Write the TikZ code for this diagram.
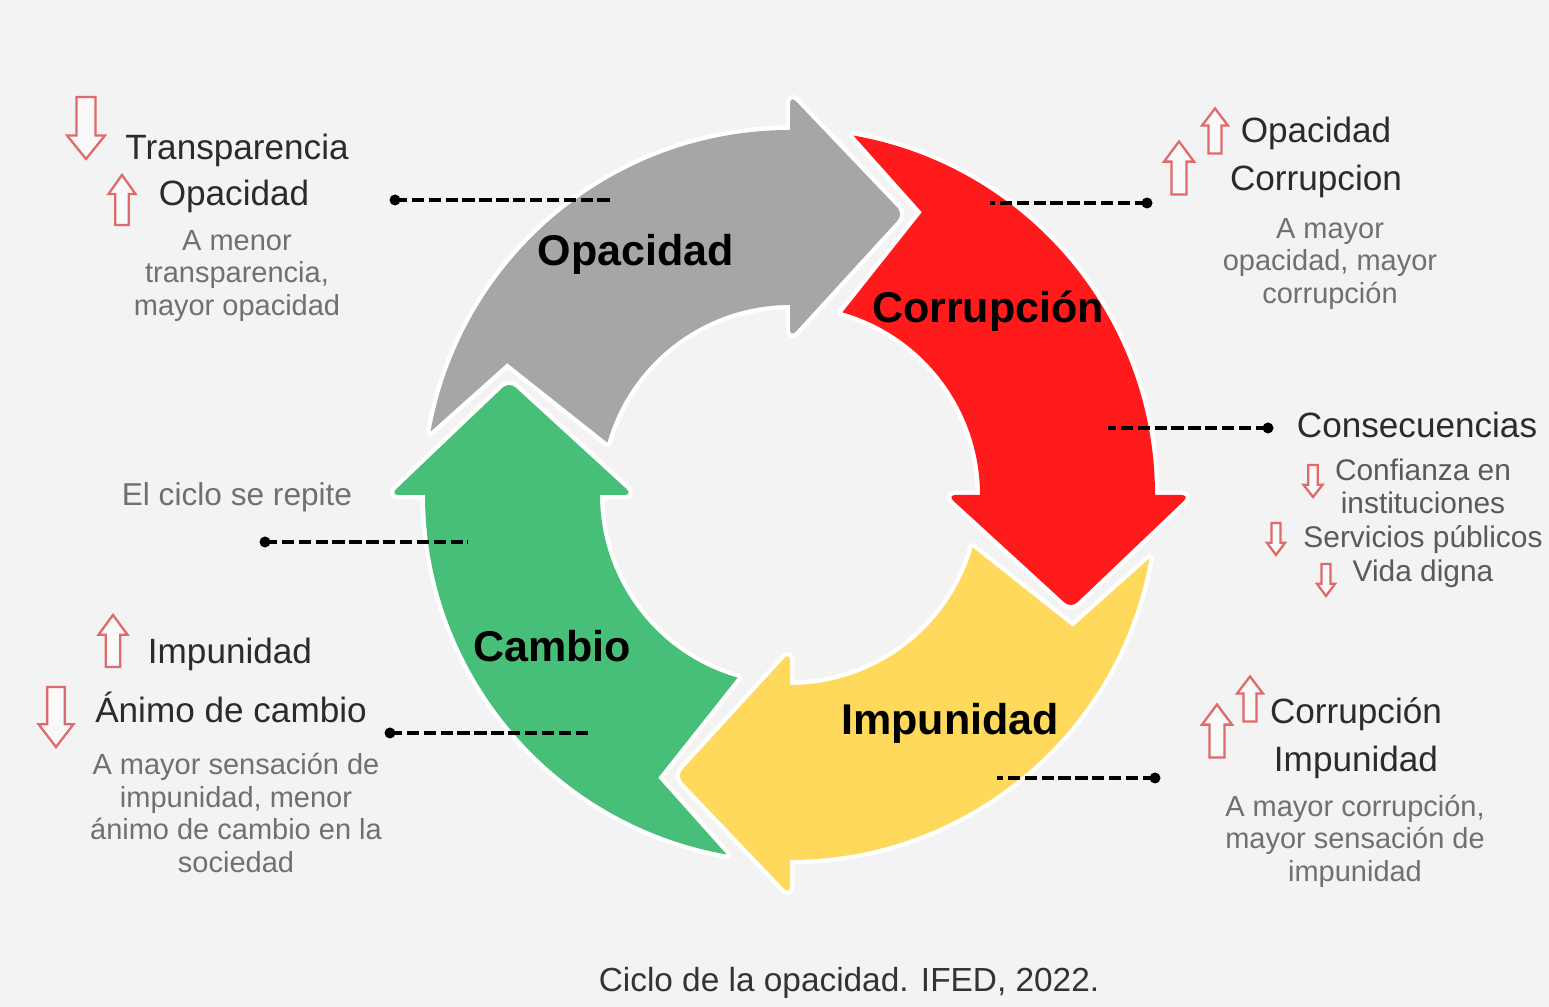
\documentclass[tikz,border=0pt]{standalone}
\usepackage{fontspec}
\setmainfont{Liberation Sans}
\definecolor{bgc}{HTML}{F3F3F3}
\definecolor{greyA}{HTML}{A6A6A6}
\definecolor{redA}{HTML}{FF1B1B}
\definecolor{yellowA}{HTML}{FFD95C}
\definecolor{greenA}{HTML}{47BF78}
\definecolor{headc}{HTML}{2B2B2B}
\definecolor{descc}{HTML}{707070}
\definecolor{subc}{HTML}{5A5A5A}
\definecolor{arrred}{HTML}{E06A6A}
\definecolor{capc}{HTML}{333333}
\tikzset{
  cycarrow/.style={preaction={draw=white, line width=5pt, line join=round}},
  headtxt/.style={inner sep=0pt, text=headc, font=\fontsize{20pt}{24pt}\selectfont},
  desctxt/.style={inner sep=0pt, text=descc, align=center, font=\fontsize{16.5pt}{18.5pt}\selectfont},
  subtxt/.style={inner sep=0pt, text=subc, align=center, font=\fontsize{17pt}{19.2pt}\selectfont},
  lbltxt/.style={inner sep=0pt, text=black, font=\bfseries\fontsize{24.5pt}{28pt}\selectfont},
  leader/.style={draw=black, line width=1.9pt, dash pattern=on 7pt off 2.6pt},
  redarr/.style={draw=arrred, line width=1.3pt, line join=miter, fill=white!50!bgc}
}
\newcommand{\cycarr}[2]{%
  \begin{scope}[shift={(C)}, rotate=#1]
    \path[cycarrow, fill=#2] (170:365) arc[start angle=170, end angle=90, radius=365]
      -- (90:376) [rounded corners=5pt] -- (90:400) -- (68:303) -- (90:157) -- (90:178) [sharp corners] -- (90:190)
      arc[start angle=90, end angle=164, radius=190] -- (155:312) -- cycle;
  \end{scope}}
\newcommand{\smallarr}[5]{%
  \begin{scope}[shift={(#1,#2)}, rotate=#5]
    \draw[redarr] (-#4/4,-#3/2) -- (#4/4,-#3/2) -- (#4/4,#3*0.12) -- (#4/2,#3*0.12)
      -- (0,#3/2) -- (-#4/2,#3*0.12) -- (-#4/4,#3*0.12) -- cycle;
  \end{scope}}
\begin{document}
\begin{tikzpicture}[x=0.02cm,y=0.02cm]
\fill[bgc] (0,0) rectangle (1549,1007);
\useasboundingbox (0,0) rectangle (1549,1007);
\coordinate (C) at (790,512);

% cycle arrows
\cycarr{0}{greyA}
\cycarr{-90}{redA}
\cycarr{-180}{yellowA}
\cycarr{90}{greenA}

% leader lines
\coordinate (d1) at (395,807); \coordinate (e1) at (610,807);
\coordinate (e2) at (990,804); \coordinate (d2) at (1147,804);
\coordinate (e3) at (1108,579); \coordinate (d3) at (1268,579);
\coordinate (d4) at (265,465); \coordinate (e4) at (468,465);
\coordinate (d5) at (390,274); \coordinate (e5) at (592,274);
\coordinate (e6) at (997,229); \coordinate (d6) at (1155,229);
\foreach \i in {1,...,6}{
  \draw[leader] (d\i) -- (e\i);
  \fill[black] (d\i) circle[radius=5.5];
}

% labels on arrows
\node[lbltxt] (lOpa) at (636,753) {Opacidad};
\node[lbltxt] (lCor) at (988,696) {Corrupción};
\node[lbltxt] (lImp) at (950,284) {Impunidad};
\node[lbltxt] (lCam) at (552,361) {Cambio};

% top left
\smallarr{86}{879}{62}{38}{180}
\smallarr{122}{807}{50}{27}{0}
\node[headtxt] (tl1) at (237,857) {Transparencia};
\node[headtxt] (tl2) at (234,811) {Opacidad};
\node[desctxt] (tl3) at (237,731) {A menor\\transparencia,\\mayor opacidad};

% top right
\smallarr{1215}{876}{45}{26}{0}
\smallarr{1179}{839}{53}{30}{0}
\node[headtxt] (tr1) at (1316,874) {Opacidad};
\node[headtxt] (tr2) at (1316,826) {Corrupcion};
\node[desctxt] (tr3) at (1330,743) {A mayor\\opacidad, mayor\\corrupción};

% consecuencias
\node[headtxt] (cs1) at (1417,582) {Consecuencias};
\node[subtxt] (cs2) at (1423,484) {Confianza en\\instituciones\\Servicios públicos\\Vida digna};
\smallarr{1313}{526}{32}{19}{180}
\smallarr{1276}{468}{32}{18}{180}
\smallarr{1326}{427}{32}{18}{180}

% left middle
\node[inner sep=0pt, text=descc, font=\fontsize{18pt}{21pt}\selectfont] (cyc) at (237,510) {El ciclo se repite};

% bottom left
\smallarr{113}{366}{52}{29}{0}
\smallarr{56}{290}{60}{35}{180}
\node[headtxt] (bl1) at (230,353) {Impunidad};
\node[headtxt] (bl2) at (231,300) {Ánimo de cambio};
\node[desctxt] (bl3) at (236,194) {A mayor sensación de\\impunidad, menor\\ánimo de cambio en la\\sociedad};

% bottom right
\smallarr{1250}{308}{45}{26}{0}
\smallarr{1217}{276}{53}{30}{0}
\node[headtxt] (br1) at (1356,293) {Corrupción};
\node[headtxt] (br2) at (1356,245) {Impunidad};
\node[desctxt] (br3) at (1355,166) {A mayor corrupción,\\mayor sensación de\\impunidad};

% caption
\node[inner sep=0pt, text=capc, font=\fontsize{19pt}{22pt}\selectfont] (cap) at (849,24) {Ciclo de la opacidad. IFED, 2022.};
\end{tikzpicture}
\end{document}
